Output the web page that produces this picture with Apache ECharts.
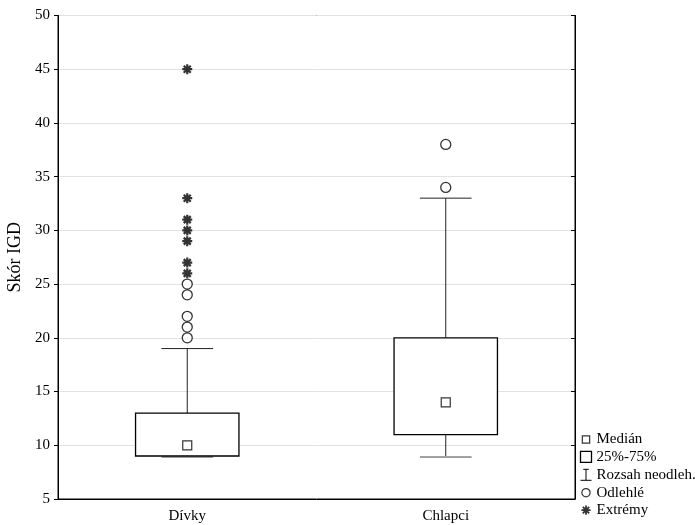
<!DOCTYPE html>
<html>
<head>
<meta charset="utf-8">
<script src="https://cdn.jsdelivr.net/npm/echarts@6/dist/echarts.min.js"></script>
<style>
  html, body { margin: 0; padding: 0; background: #fff; }
  #chart { width: 695px; height: 525px; }
</style>
</head>
<body>
<div id="chart"></div>
<script>
// Skór IGD by group: box = 25%-75%, whiskers = non-outlier range
const categories = ['Dívky', 'Chlapci'];
const medians = [10, 14];
const q1 = [9, 11];
const q3 = [13, 20];
const whiskerLow = [9, 9];
const whiskerHigh = [19, 33];
const outliers = [[20, 21, 22, 24, 25], [34, 38]];
const extremes = [[26, 27, 29, 30, 31, 33, 45], []];
const yTicks = { min: 5, max: 50, step: 5 };

const serif = 'Liberation Serif, Times New Roman, serif';
const asterisk = 'path://M5,0L5,10M0,5L10,5M1.5,1.5L8.5,8.5M1.5,8.5L8.5,1.5';

const boxData = categories.map((c, i) => [i, q1[i], q3[i]]);
const whiskerData = categories.map((c, i) => [i, whiskerLow[i], q1[i], q3[i], whiskerHigh[i]]);
const medianData = categories.map((c, i) => [i, medians[i]]);
const outlierData = [];
outliers.forEach((vals, i) => vals.forEach(v => outlierData.push([i, v])));
const extremeData = [];
extremes.forEach((vals, i) => vals.forEach(v => extremeData.push([i, v])));

function renderBox(params, api) {
  const lo = api.coord([api.value(0), api.value(1)]);
  const hi = api.coord([api.value(0), api.value(2)]);
  const w = api.size([1, 0])[0] * 0.4;
  return {
    type: 'rect',
    shape: { x: lo[0] - w / 2, y: hi[1], width: w, height: lo[1] - hi[1] },
    style: { fill: '#fff', stroke: '#000', lineWidth: 1.3 }
  };
}

function renderWhisker(params, api) {
  const idx = api.value(0);
  const pLow = api.coord([idx, api.value(1)]);
  const pQ1 = api.coord([idx, api.value(2)]);
  const pQ3 = api.coord([idx, api.value(3)]);
  const pHigh = api.coord([idx, api.value(4)]);
  const cap = api.size([1, 0])[0] * 0.2;
  const x = pLow[0];
  const st = { stroke: '#222', lineWidth: 1 };
  return {
    type: 'group',
    children: [
      { type: 'line', shape: { x1: x, y1: pQ3[1], x2: x, y2: pHigh[1] }, style: st },
      { type: 'line', shape: { x1: x, y1: pQ1[1], x2: x, y2: pLow[1] }, style: st },
      { type: 'line', shape: { x1: x - cap / 2, y1: pHigh[1], x2: x + cap / 2, y2: pHigh[1] }, style: st },
      { type: 'line', shape: { x1: x - cap / 2, y1: pLow[1] + 1, x2: x + cap / 2, y2: pLow[1] + 1 }, style: { stroke: '#444', lineWidth: 1 } }
    ]
  };
}

const chart = echarts.init(document.getElementById('chart'), null, { renderer: 'canvas' });
const hollow = { color: '#fff', borderColor: '#000', borderWidth: 1.2 };

chart.setOption({
  animation: false,
  backgroundColor: '#fff',
  textStyle: { fontFamily: serif },
  grid: {
    left: 58, right: 120, top: 15.5, bottom: 26,
    outerBoundsMode: 'none',
    containLabel: false,
    show: true, borderColor: '#000', borderWidth: 1, backgroundColor: 'transparent'
  },
  legend: {
    orient: 'vertical',
    left: 578,
    top: 432,
    itemWidth: 11,
    itemHeight: 11,
    itemGap: 2.4,
    padding: 0,
    textStyle: { fontFamily: serif, fontSize: 15, color: '#000' },
    selectedMode: false,
    data: [
      { name: 'Medián', icon: 'path://M0,0M12,12M2,2L10,2L10,10L2,10Z', itemStyle: hollow },
      { name: '25%-75%', icon: 'rect', itemStyle: { color: '#fff', borderColor: '#000', borderWidth: 1.3 } },
      { name: 'Rozsah neodleh.', icon: 'path://M3,0L9,0M6,0L6,12M0,12L12,12', itemStyle: { color: 'none', borderColor: '#000', borderWidth: 1 } },
      { name: 'Odlehlé', icon: 'path://M0,0M12,12M6,1.5A4.5,4.5,0,1,1,5.99,1.5Z', itemStyle: hollow },
      { name: 'Extrémy', icon: 'path://M0,0M12,12M6,1L6,11M1,6L11,6M2.5,2.5L9.5,9.5M2.5,9.5L9.5,2.5', itemStyle: { color: '#000', borderColor: '#000', borderWidth: 1.8 } }
    ]
  },
  xAxis: {
    type: 'category',
    data: categories,
    axisLine: { lineStyle: { color: '#000', width: 1 } },
    axisTick: { inside: true, alignWithLabel: true, length: 3, lineStyle: { color: '#777' } },
    axisLabel: { color: '#000', fontFamily: serif, fontSize: 15, margin: 10 },
    splitLine: { show: false }
  },
  yAxis: [
    {
      type: 'value',
      min: yTicks.min, max: yTicks.max, interval: yTicks.step,
      name: 'Skór IGD',
      nameLocation: 'middle',
      nameGap: 27,
      nameTextStyle: { color: '#000', fontFamily: serif, fontSize: 18 },
      axisLine: { show: true, lineStyle: { color: '#000', width: 1 } },
      axisTick: { show: true, inside: false, length: 4, lineStyle: { color: '#000' } },
      axisLabel: { color: '#000', fontFamily: serif, fontSize: 15, margin: 8 },
      splitLine: { show: true, lineStyle: { color: '#e2e2e2', width: 1 } }
    },
    {
      type: 'value',
      position: 'right',
      min: yTicks.min, max: yTicks.max, interval: yTicks.step,
      axisLine: { show: true, lineStyle: { color: '#000', width: 1 } },
      axisTick: { show: true, inside: true, length: 4, lineStyle: { color: '#000' } },
      axisLabel: { show: false },
      splitLine: { show: false }
    }
  ],
  series: [
    {
      name: 'Rozsah neodleh.',
      type: 'custom',
      renderItem: renderWhisker,
      data: whiskerData,
      encode: { x: 0, y: [1, 2, 3, 4] },
      z: 2
    },
    {
      name: '25%-75%',
      type: 'custom',
      renderItem: renderBox,
      data: boxData,
      encode: { x: 0, y: [1, 2] },
      z: 3
    },
    {
      name: 'Medián',
      type: 'scatter',
      data: medianData,
      symbol: 'rect',
      symbolSize: 9,
      itemStyle: hollow,
      z: 4
    },
    {
      name: 'Odlehlé',
      type: 'scatter',
      data: outlierData,
      symbol: 'circle',
      symbolSize: 10,
      itemStyle: { color: '#fff', borderColor: '#000', borderWidth: 1.3 },
      z: 4
    },
    {
      name: 'Extrémy',
      type: 'scatter',
      data: extremeData,
      symbol: asterisk,
      symbolSize: 10,
      itemStyle: { color: '#000', borderColor: '#000', borderWidth: 2.2 },
      z: 5
    }
  ]
});
</script>
</body>
</html>
